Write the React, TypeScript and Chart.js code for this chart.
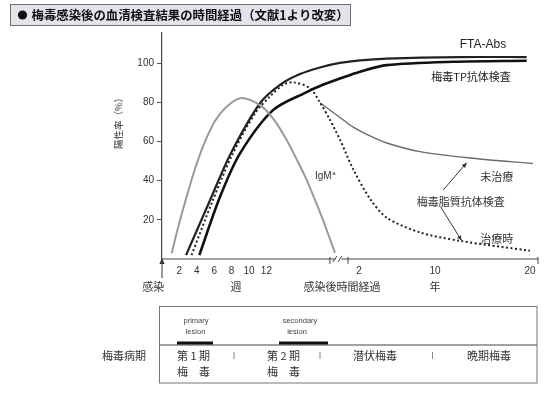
import React, { useEffect, useRef } from "react";
import { Chart, registerables } from "chart.js";

Chart.register(...registerables);

// ---- axis ticks ----
const WEEK_TICKS = [2, 4, 6, 8, 10, 12];
const YEAR_TICKS = [2, 10, 20];
const Y_TICKS = [20, 40, 60, 80, 100];

// ---- broken x axis: weeks segment, then years segment ----
const WEEK_AXIS_END = 19.3; // weeks
const YEAR_AXIS_START = 0.84; // years
const YEAR_ORIGIN = 20.46; // axis unit where year 0 sits
const UNITS_PER_YEAR = 1.092;
const X_MAX = 43.22;
const Y_MAX = 115.5;
const yr = (y: number) => YEAR_ORIGIN + y * UNITS_PER_YEAR;

// ---- series (weeks part / years part) ----
const IGM_WEEKS = [1.11, 1.84, 2.84, 3.79, 4.75, 6.09, 7.59, 9.2, 11.49, 12.99, 14.33, 15.52, 16.63, 17.59, 18.51, 19.89];
const IGM_VALUES = [2.9, 16, 32, 46, 58, 70.5, 78.5, 82.3, 77.9, 70.5, 60.8, 50.6, 40.4, 30.1, 19.9, 3.1];

const FTA_WEEKS = [2.76, 5.52, 7.82, 11.26, 13.56, 15.86, 18.16];
const FTA_WEEK_VALUES = [2, 30, 53.2, 79.6, 89, 94.5, 97.9];
const FTA_YEARS = [0, 2.1, 4.92, 12.6, 19.65];
const FTA_YEAR_VALUES = [100.2, 101.5, 102.4, 103.2, 103.2];

const TP_WEEKS = [4.29, 6.67, 8.97, 12.76, 16.63, 18.16];
const TP_WEEK_VALUES = [2, 31.8, 54, 76.1, 85.3, 88.4];
const TP_YEARS = [0, 2.1, 4.92, 11.9, 19.65];
const TP_YEAR_VALUES = [92.2, 95.7, 99.1, 100.8, 101.3];

const LIPID_WEEKS = [3.4, 5.75, 8.05, 10.7, 12.4, 13.9, 15.1, 17.0, 18.2, 19.3, 19.9];
const LIPID_WEEK_VALUES = [2, 29, 53, 74.5, 83, 89, 90.3, 87.3, 79.7, 71.2, 66];
const TREATED_YEARS = [0, 1.4, 3.2, 4.9, 8.4, 12.6, 20];
const TREATED_VALUES = [61, 45.8, 30.5, 21.2, 13.6, 9.3, 4.2];

const UNTREATED_WEEKS = [18.2];
const UNTREATED_WEEK_VALUES = [79.7];
const UNTREATED_YEARS = [0, 1.4, 3.16, 4.92, 8.42, 13.7, 20.3];
const UNTREATED_YEAR_VALUES = [72.3, 67.4, 62.9, 59.3, 54.9, 51.6, 48.8];

const X_TICK_VALUES = [...WEEK_TICKS, ...YEAR_TICKS.map(yr)];
const X_TICK_LABELS = [...WEEK_TICKS, ...YEAR_TICKS].map(String);

const CJK = '"Noto Sans CJK JP", "Noto Sans", sans-serif';
const LAT = '"Liberation Sans", Arial, sans-serif';
const W = 556;
const H = 397;
const PLOT_BOTTOM = 259;

const pts = (xs: number[], vs: number[], conv: (n: number) => number = (n) => n) =>
  xs.map((x, i) => ({ x: conv(x), y: vs[i] }));

function txt(ctx: CanvasRenderingContext2D, s: string, x: number, y: number, font: string, align: CanvasTextAlign = "center", color = "#333") {
  ctx.font = font;
  ctx.fillStyle = color;
  ctx.textAlign = align;
  ctx.textBaseline = "middle";
  ctx.fillText(s, x, y);
}

function seg(ctx: CanvasRenderingContext2D, x1: number, y1: number, x2: number, y2: number) {
  ctx.beginPath();
  ctx.moveTo(x1, y1);
  ctx.lineTo(x2, y2);
  ctx.stroke();
}

function arrow(ctx: CanvasRenderingContext2D, x1: number, y1: number, x2: number, y2: number) {
  ctx.strokeStyle = "#333";
  ctx.fillStyle = "#333";
  ctx.lineWidth = 1;
  seg(ctx, x1, y1, x2, y2);
  const a = Math.atan2(y2 - y1, x2 - x1);
  const L = 5, Wd = 2.2;
  ctx.beginPath();
  ctx.moveTo(x2, y2);
  ctx.lineTo(x2 - L * Math.cos(a) + Wd * Math.sin(a), y2 - L * Math.sin(a) - Wd * Math.cos(a));
  ctx.lineTo(x2 - L * Math.cos(a) - Wd * Math.sin(a), y2 - L * Math.sin(a) + Wd * Math.cos(a));
  ctx.closePath();
  ctx.fill();
}

const decorations = {
  id: "decorations",
  afterDraw(chart: any) {
    const ctx: CanvasRenderingContext2D = chart.ctx;
    const { x, y } = chart.scales;
    const area = chart.chartArea;
    const px = (u: number) => x.getPixelForValue(u);
    const py = (v: number) => y.getPixelForValue(v);
    const base = area.bottom;
    ctx.save();

    // ---- title bar ----
    ctx.fillStyle = "#e3e3eb";
    ctx.fillRect(10.5, 4.5, 340, 21);
    ctx.strokeStyle = "#6e6e6e";
    ctx.lineWidth = 1;
    ctx.strokeRect(10.5, 4.5, 340, 21);
    ctx.fillStyle = "#111";
    ctx.beginPath();
    ctx.arc(22.5, 15, 4.6, 0, Math.PI * 2);
    ctx.fill();
    txt(ctx, "梅毒感染後の血清検査結果の時間経過（文献1より改変）", 31.5, 15.5, `bold 12.4px ${CJK}`, "left", "#111");

    // ---- y axis title ----
    ctx.save();
    ctx.translate(118.5, 121);
    ctx.rotate(-Math.PI / 2);
    txt(ctx, "陽性率（%）", 0, 0, `9.5px ${CJK}`, "center", "#333");
    ctx.restore();

    // ---- broken x axis ----
    const p1 = px(WEEK_AXIS_END);
    const p2 = px(yr(YEAR_AXIS_START));
    const mid = (p1 + p2) / 2;
    ctx.strokeStyle = "#444";
    ctx.lineWidth = 1.2;
    seg(ctx, px(0), base, mid - 3.5, base);
    seg(ctx, mid + 2.5, base, area.right, base);
    ctx.lineWidth = 1;
    seg(ctx, mid - 6, base + 3, mid - 2, base - 3);
    seg(ctx, mid - 1, base + 3, mid + 3, base - 3);
    for (const tx of [p1, p2, area.right]) seg(ctx, tx, base - 2, tx, base + 5);

    // infection arrow
    ctx.strokeStyle = "#333";
    ctx.fillStyle = "#333";
    seg(ctx, px(0), base + 2, px(0), base + 19);
    ctx.beginPath();
    ctx.moveTo(px(0), base - 1);
    ctx.lineTo(px(0) - 2.6, base + 5);
    ctx.lineTo(px(0) + 2.6, base + 5);
    ctx.closePath();
    ctx.fill();

    // axis captions
    const cy = base + 28;
    txt(ctx, "感染", px(-1.0), cy, `11px ${CJK}`);
    txt(ctx, "週", px(8.5), cy, `11px ${CJK}`);
    txt(ctx, "感染後時間経過", px(yr(0.2)), cy, `11px ${CJK}`);
    txt(ctx, "年", px(yr(10)), cy, `11px ${CJK}`);

    // ---- curve labels ----
    txt(ctx, "FTA-Abs", px(yr(15.05)), py(109.4), `12px ${LAT}`, "center", "#222");
    txt(ctx, "梅毒TP抗体検査", px(yr(13.8)), py(93), `11px ${CJK}`, "center", "#222");
    txt(ctx, "IgM", px(17.59), py(42.2), `10px ${LAT}`, "left", "#333");
    ctx.font = `10px ${LAT}`;
    const igw = ctx.measureText("IgM").width;
    txt(ctx, "a", px(17.59) + igw + 0.5, py(42.2) - 3.5, `6px ${LAT}`, "left", "#333");
    txt(ctx, "未治療", px(yr(16.5)), py(41.9), `11px ${CJK}`);
    txt(ctx, "梅毒脂質抗体検査", px(yr(12.7)), py(29.1), `11px ${CJK}`);
    txt(ctx, "治療時", px(yr(16.5)), py(10.2), `11px ${CJK}`);
    arrow(ctx, px(yr(10.87)), py(35.3), px(yr(13.34)), py(49.2));
    arrow(ctx, px(yr(10.6)), py(26.6), px(yr(12.8)), py(9.4));

    // ---- stage table ----
    const L = 159.5, R = 537, T = 306.5, M = 345, B = 383;
    ctx.strokeStyle = "#777";
    ctx.lineWidth = 1;
    ctx.strokeRect(L, T, R - L, B - T);
    ctx.strokeStyle = "#444";
    ctx.lineWidth = 1.2;
    seg(ctx, L, M, R, M);
    txt(ctx, "梅毒病期", 124, 356, `11px ${CJK}`);
    txt(ctx, "primary", 196, 320.5, `7.5px ${LAT}`, "center", "#444");
    txt(ctx, "lesion", 195.5, 331.5, `7.5px ${LAT}`, "center", "#444");
    txt(ctx, "secondary", 300, 320.5, `7.5px ${LAT}`, "center", "#444");
    txt(ctx, "lesion", 297, 331.5, `7.5px ${LAT}`, "center", "#444");
    ctx.fillStyle = "#111";
    ctx.fillRect(177, 341.5, 36, 3);
    ctx.fillRect(279, 341.5, 49, 3);
    txt(ctx, "第 1 期", 177, 355.5, `11px ${CJK}`, "left");
    txt(ctx, "梅　毒", 177, 372, `11px ${CJK}`, "left");
    txt(ctx, "第 2 期", 267, 355.5, `11px ${CJK}`, "left");
    txt(ctx, "梅　毒", 267, 372, `11px ${CJK}`, "left");
    txt(ctx, "潜伏梅毒", 375, 355.5, `11px ${CJK}`);
    txt(ctx, "晩期梅毒", 489, 355.5, `11px ${CJK}`);
    ctx.strokeStyle = "#888";
    ctx.lineWidth = 1;
    for (const sx of [234, 320, 432.5]) seg(ctx, sx, 352, sx, 359);

    ctx.restore();
  },
};

export default function App() {
  const ref = useRef<HTMLCanvasElement>(null);
  useEffect(() => {
    const common = { pointRadius: 0, fill: false, tension: 0.3 };
    const chart = new Chart(ref.current!, {
      type: "line",
      data: {
        datasets: [
          { ...common, label: "IgM", data: pts(IGM_WEEKS, IGM_VALUES), borderColor: "#9a9a9a", borderWidth: 2 },
          {
            ...common,
            label: "FTA-Abs",
            data: [...pts(FTA_WEEKS, FTA_WEEK_VALUES), ...pts(FTA_YEARS, FTA_YEAR_VALUES, yr)],
            borderColor: "#222",
            borderWidth: 2.2,
          },
          {
            ...common,
            label: "梅毒TP抗体検査",
            data: [...pts(TP_WEEKS, TP_WEEK_VALUES), ...pts(TP_YEARS, TP_YEAR_VALUES, yr)],
            borderColor: "#111",
            borderWidth: 2.6,
          },
          {
            ...common,
            label: "梅毒脂質抗体検査（治療時）",
            data: [...pts(LIPID_WEEKS, LIPID_WEEK_VALUES), ...pts(TREATED_YEARS, TREATED_VALUES, yr)],
            borderColor: "#222",
            borderWidth: 2,
            borderDash: [2, 2.5],
          },
          {
            ...common,
            label: "梅毒脂質抗体検査（未治療）",
            data: [...pts(UNTREATED_WEEKS, UNTREATED_WEEK_VALUES), ...pts(UNTREATED_YEARS, UNTREATED_YEAR_VALUES, yr)],
            borderColor: "#6a6a6a",
            borderWidth: 1.4,
          },
        ],
      },
      options: {
        responsive: false,
        animation: false,
        devicePixelRatio: 1,
        layout: { padding: { left: 0, right: 18, top: 33, bottom: 0 } },
        plugins: { legend: { display: false }, tooltip: { enabled: false } },
        scales: {
          x: {
            type: "linear",
            min: 0,
            max: X_MAX,
            grid: { display: false, drawTicks: false, tickLength: 0 },
            border: { display: false },
            ticks: {
              autoSkip: false,
              maxRotation: 0,
              padding: 6,
              color: "#333",
              font: { family: LAT, size: 10 },
              callback: (_v: any, i: number) => X_TICK_LABELS[i],
            },
            afterBuildTicks: (s: any) => {
              s.ticks = X_TICK_VALUES.map((value) => ({ value }));
            },
            afterFit: (s: any) => {
              s.height = H - PLOT_BOTTOM;
            },
          },
          y: {
            min: 0,
            max: Y_MAX,
            grid: { drawOnChartArea: false, drawTicks: true, tickLength: 5, color: "#555" },
            border: { display: true, color: "#444", width: 1.2 },
            ticks: { padding: 3, color: "#333", font: { family: LAT, size: 10 } },
            afterBuildTicks: (s: any) => {
              s.ticks = Y_TICKS.map((value) => ({ value }));
            },
            afterFit: (s: any) => {
              s.width = 162;
            },
          },
        },
      },
      plugins: [decorations],
    } as any);
    return () => chart.destroy();
  }, []);
  return (
    <div style={{ position: "absolute", left: 0, top: 0, width: W, height: H, background: "#fff" }}>
      <canvas ref={ref} width={W} height={H} style={{ display: "block", width: W, height: H }} />
    </div>
  );
}
